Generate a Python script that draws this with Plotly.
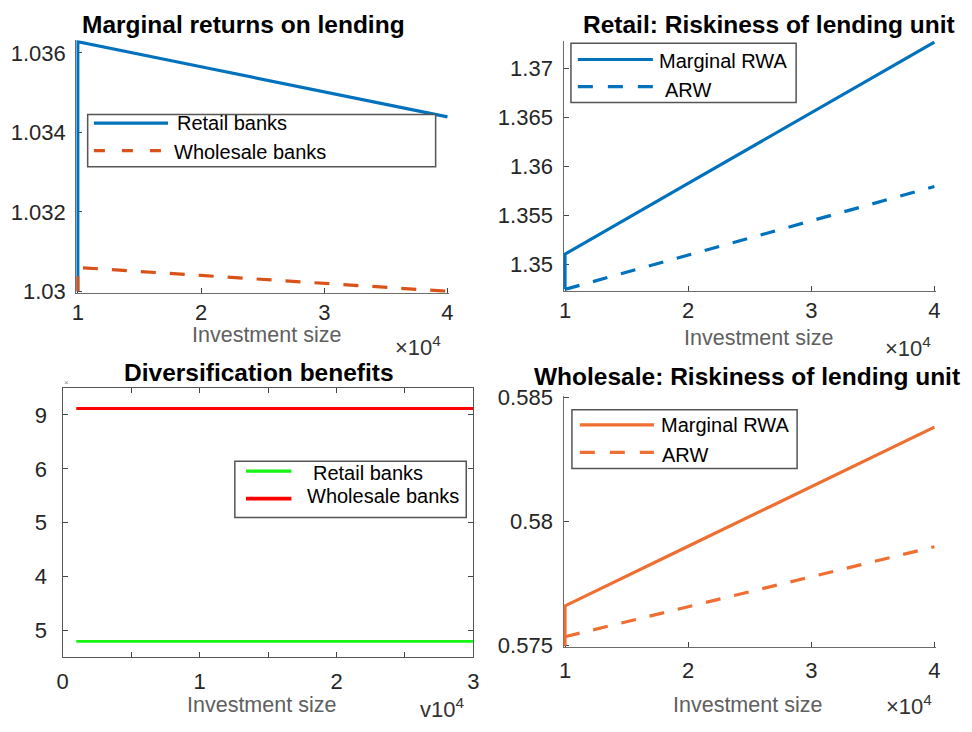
import plotly.graph_objects as go

W, H = 972, 732
FONT = "Liberation Sans, Arial, Helvetica, sans-serif"

# ---- data -------------------------------------------------------------
invest_x = [10000, 10000, 20000, 30000, 40000]
ret_retail = [1.0300, 1.03628, 1.03565, 1.03502, 1.03439]
ret_wholesale = [1.0300, 1.03060, 1.03040, 1.03020, 1.03000]

rwa_marg_retail = [1.34742, 1.35103, 1.35826, 1.36548, 1.37271]
arw_retail = [1.34742, 1.34742, 1.35092, 1.35442, 1.35793]

rwa_marg_wholesale = [0.5750, 0.5766, 0.5790, 0.5814, 0.5838]
arw_wholesale = [0.57536, 0.57536, 0.57657, 0.57777, 0.57898]

div_x = [1000, 30000]
div_retail = [4.80, 4.80]
div_wholesale = [9.12, 9.12]

# ---- tick labels ------------------------------------------------------
x_tickvals = [10000, 20000, 30000, 40000]
x_ticktext = ["1", "2", "3", "4"]
ret_tickvals = [1.030, 1.032, 1.034, 1.036]
ret_ticktext = ["1.03", "1.032", "1.034", "1.036"]
rr_tickvals = [1.35, 1.355, 1.36, 1.365, 1.37]
rr_ticktext = ["1.35", "1.355", "1.36", "1.365", "1.37"]
rw_tickvals = [0.575, 0.58, 0.585]
rw_ticktext = ["0.575", "0.58", "0.585"]
div_x_tickvals = [0, 10000, 20000, 30000]
div_x_ticktext = ["0", "1", "2", "3"]
div_y_tickvals = [5, 6, 7, 8, 9]
div_y_ticktext = ["5", "4", "5", "6", "9"]

BLUE = "#0072BD"
ORANGE = "#D95319"
ORANGE2 = "#EF6E31"
GREEN = "#14F514"
RED = "#FF0000"
DASH = "15px,14px"


def frame(left, right, top, bottom, x_lo, x_hi, y_lo, y_hi, pad=0.0):
    """Pixel box + value box -> (x domain, x range, y domain, y range)."""
    sx = (x_hi - x_lo) / (right - left)
    sy = (y_hi - y_lo) / (bottom - top)
    xr = [x_lo - pad * sx, x_hi + pad * sx]
    yr = [y_lo - pad * sy, y_hi + pad * sy]
    xd = [(left - pad) / W, (right + pad) / W]
    yd = [1 - (bottom + pad) / H, 1 - (top - pad) / H]
    return xd, xr, yd, yr


def px(x):
    return x / W


def py(y):
    return 1 - y / H


fig = go.Figure()

axis_common = dict(
    showgrid=False, zeroline=False, showline=True,
    linecolor="#6b6b6b", linewidth=1.4,
    ticks="inside", ticklen=5, tickwidth=1, tickcolor="#444444",
    tickfont=dict(family=FONT, size=22, color="#262626"),
    layer="below traces", fixedrange=True,
)

panels = {
    1: frame(72.7, 447.0, 31.7, 289.0, 10000, 40000, 1.0300, 1.03628, 1.5),
    2: frame(566.0, 940.0, 32.0, 287.0, 10000, 40000, 1.34742, 1.37271, 1.5),
    3: frame(57.3, 473.3, 388.7, 666.0, 0, 30000, 4.51, 9.50, 0.0),
    4: frame(566.0, 940.0, 398.3, 654.3, 10000, 40000, 0.5750, 0.5850, 1.5),
}

layout = {}
for i, (xd, xr, yd, yr) in panels.items():
    sfx = "" if i == 1 else str(i)
    layout["xaxis" + sfx] = dict(axis_common, domain=xd, range=xr,
                                 anchor="y" + sfx)
    layout["yaxis" + sfx] = dict(axis_common, domain=yd, range=yr,
                                 anchor="x" + sfx, ticklabelstandoff=5)

layout["xaxis"].update(tickvals=x_tickvals, ticktext=x_ticktext)
layout["yaxis"].update(tickvals=ret_tickvals, ticktext=ret_ticktext)
layout["xaxis2"].update(tickvals=x_tickvals, ticktext=x_ticktext)
layout["yaxis2"].update(tickvals=rr_tickvals, ticktext=rr_ticktext)
layout["xaxis3"].update(tickvals=div_x_tickvals, ticktext=div_x_ticktext,
                        minor=dict(ticks="inside", dtick=5000, ticklen=5,
                                   tickcolor="#444444", tickwidth=1),
                        mirror="ticks", linecolor="#555555",
                        ticklabelstandoff=4)
layout["yaxis3"].update(tickvals=div_y_tickvals, ticktext=div_y_ticktext,
                        mirror="ticks", linecolor="#555555",
                        ticklabelstandoff=10)
layout["xaxis4"].update(tickvals=x_tickvals, ticktext=x_ticktext,
                        ticklabelstandoff=3)
layout["yaxis4"].update(tickvals=rw_tickvals, ticktext=rw_ticktext)

# ---- traces -----------------------------------------------------------
fig.add_trace(go.Scatter(x=invest_x, y=ret_retail, mode="lines",
                         line=dict(color=BLUE, width=3.2),
                         name="Retail banks", xaxis="x", yaxis="y"))
fig.add_trace(go.Scatter(x=invest_x, y=ret_wholesale, mode="lines",
                         line=dict(color=ORANGE, width=3.2, dash=DASH),
                         name="Wholesale banks", xaxis="x", yaxis="y"))

fig.add_trace(go.Scatter(x=invest_x, y=rwa_marg_retail, mode="lines",
                         line=dict(color=BLUE, width=3.2),
                         name="Marginal RWA", xaxis="x2", yaxis="y2"))
fig.add_trace(go.Scatter(x=invest_x, y=arw_retail, mode="lines",
                         line=dict(color=BLUE, width=3.2, dash=DASH),
                         name="ARW", xaxis="x2", yaxis="y2"))

fig.add_trace(go.Scatter(x=div_x, y=div_retail, mode="lines",
                         line=dict(color=GREEN, width=2.6),
                         name="Retail banks", xaxis="x3", yaxis="y3"))
fig.add_trace(go.Scatter(x=div_x, y=div_wholesale, mode="lines",
                         line=dict(color=RED, width=3.2),
                         name="Wholesale banks", xaxis="x3", yaxis="y3"))

fig.add_trace(go.Scatter(x=invest_x, y=rwa_marg_wholesale, mode="lines",
                         line=dict(color=ORANGE2, width=3.2),
                         name="Marginal RWA", xaxis="x4", yaxis="y4"))
fig.add_trace(go.Scatter(x=invest_x, y=arw_wholesale, mode="lines",
                         line=dict(color=ORANGE2, width=3.2, dash=DASH),
                         name="ARW", xaxis="x4", yaxis="y4"))

# ---- text: titles, axis labels, exponent markers ----------------------
annotations = []


def text(x, y, s, size=22, color="#000000", bold=False, xanchor="center",
         yanchor="middle", family=FONT):
    annotations.append(dict(
        x=px(x), y=py(y), xref="paper", yref="paper", text=s,
        showarrow=False, xanchor=xanchor, yanchor=yanchor, borderpad=0,
        font=dict(family=family, size=size, color=color,
                  weight="bold" if bold else "normal"),
    ))


text(240.8, -1, "Marginal returns on lending", 24.5, bold=True,
     yanchor="top")
text(773.0, -1, "Retail: Riskiness of lending unit", 24.5, bold=True,
     yanchor="top")
text(256.0, 373, "Diversification benefits", 24.5, bold=True)
text(750.0, 377, "Wholesale: Riskiness of lending unit", 24.5, bold=True)

LABEL = "#606060"
text(263.8, 334, "Investment size", 21.5, LABEL)
text(762.0, 337, "Investment size", 21.5, LABEL)
text(259.0, 715, "Investment size", 21.5, LABEL)
text(750.5, 715, "Investment size", 21.5, LABEL)

EXP = "#333333"
text(393, 345, "×10<sup>4</sup>", 22, EXP, xanchor="left")
text(889, 346, "×10<sup>4</sup>", 22, EXP, xanchor="left")
text(890, 715, "×10<sup>4</sup>", 22, EXP, xanchor="left")
text(418, 719, "v10<sup>4</sup>", 22, EXP, xanchor="left")
text(61, 383, "×", 8, "#888888")

# ---- legends ----------------------------------------------------------
shapes = []


def legend_box(x0, y0, x1, y1):
    shapes.append(dict(type="rect", xref="paper", yref="paper",
                       x0=px(x0), x1=px(x1), y0=py(y1), y1=py(y0),
                       line=dict(color="#555555", width=1.5),
                       fillcolor="white", layer="above"))


def legend_item(x0, x1, y, color, width, dash, label, tx, ty):
    shapes.append(dict(type="line", xref="paper", yref="paper",
                       x0=px(x0), x1=px(x1), y0=py(y), y1=py(y),
                       line=dict(color=color, width=width, dash=dash),
                       layer="above"))
    text(tx, ty, label, 20, "#000000", xanchor="left")


legend_box(82.7, 106.7, 435.0, 160.7)
legend_item(89, 164, 115.5, BLUE, 3.2, "solid", "Retail banks", 171.7, 115.7)
legend_item(89, 164, 144.0, ORANGE, 3.2, "11px,17px", "Wholesale banks",
            169.0, 145.7)

legend_box(572.0, 33.3, 800.0, 94.3)
legend_item(579, 655, 50.0, BLUE, 3.2, "solid", "Marginal RWA", 660.0, 51.7)
legend_item(579, 655, 78.0, BLUE, 3.2, "15px,15px", "ARW", 666.0, 81.0)

legend_box(231.7, 464.3, 466.0, 522.3)
legend_item(243, 289, 474.3, GREEN, 3.2, "solid", "Retail banks", 310.0, 476.7)
legend_item(243, 289, 502.7, RED, 3.6, "solid", "Wholesale banks",
            304.0, 500.0)

legend_box(573.0, 411.0, 801.0, 471.7)
legend_item(581, 656, 426.7, ORANGE2, 3.2, "solid", "Marginal RWA",
            661.7, 426.7)
legend_item(581, 656, 455.0, ORANGE2, 3.2, "15px,15px", "ARW", 662.7, 457.7)

fig.update_layout(
    **layout,
    width=W, height=H,
    margin=dict(l=0, r=0, t=0, b=0),
    paper_bgcolor="white", plot_bgcolor="white",
    showlegend=False,
    annotations=annotations,
    shapes=shapes,
    font=dict(family=FONT),
)

fig.write_html("out.html", config={"displayModeBar": False})
